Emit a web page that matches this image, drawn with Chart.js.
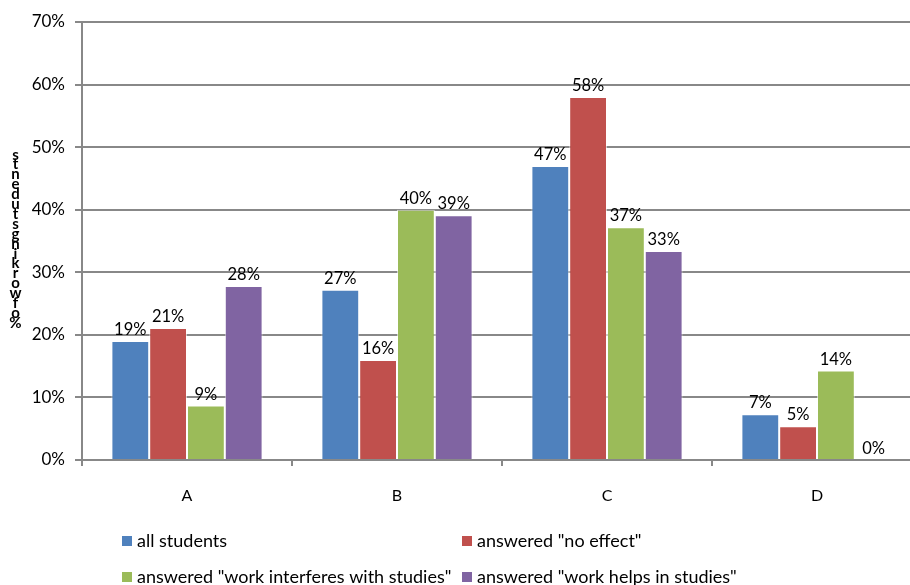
<!DOCTYPE html>
<html>
<head>
<meta charset="utf-8">
<script src="https://cdn.jsdelivr.net/npm/chart.js@4"></script>
<style>
  html, body { margin: 0; padding: 0; background: #fff; overflow: hidden; }
  #wrap { position: relative; width: 925px; height: 585px; }
</style>
</head>
<body>
<div id="wrap"><canvas id="chart" width="925" height="585"></canvas></div>
<script>
// categories and series (percent of working students)
const categories = ["A", "B", "C", "D"];
const allStudents = [19, 27.2, 47, 7.3];
const noEffect = [21.1, 16, 58, 5.4];
const interferes = [8.7, 40, 37.2, 14.3];
const helps = [27.8, 39.1, 33.4, 0];
const valueLabels = [
    ["19%", "27%", "47%", "7%"],
    ["21%", "16%", "58%", "5%"],
    ["9%", "40%", "37%", "14%"],
    ["28%", "39%", "33%", "0%"]
];
const seriesNames = [
    "all students",
    'answered "no effect"',
    'answered "work interferes with studies"',
    'answered "work helps in studies"'
];
const colors = ["#4f81bd", "#c0504d", "#9bbb59", "#8064a2"];
const yTitle = "% of working students";

const fontFamily = "Lato, 'Liberation Sans', sans-serif";

// value labels above each bar
const barLabels = {
    id: "barLabels",
    afterDatasetsDraw(chart) {
        const ctx = chart.ctx;
        ctx.save();
        ctx.font = "16.5px " + fontFamily;
        ctx.fillStyle = "#000";
        ctx.textAlign = "center";
        ctx.textBaseline = "bottom";
        chart.data.datasets.forEach((ds, i) => {
            chart.getDatasetMeta(i).data.forEach((bar, j) => {
                ctx.fillText(valueLabels[i][j], bar.x, bar.y - 3);
            });
        });
        ctx.restore();
    }
};

// stacked y-axis title and two-column legend
const extras = {
    id: "extras",
    afterDraw(chart) {
        const ctx = chart.ctx;
        ctx.save();
        // y title: characters stacked, read bottom to top
        ctx.font = "bold 15px " + fontFamily;
        ctx.fillStyle = "#000";
        ctx.textAlign = "center";
        ctx.textBaseline = "middle";
        const chars = yTitle.replace(/ /g, "").split("");
        let y = 323;
        chars.forEach(c => {
            ctx.fillText(c, 15.5, y);
            y -= 9.9;
        });
        // legend
        ctx.font = "18px " + fontFamily;
        ctx.textAlign = "left";
        ctx.textBaseline = "alphabetic";
        const pos = [[122, 536], [462, 536], [122, 572], [462, 572]];
        seriesNames.forEach((name, i) => {
            const [x, yy] = pos[i];
            ctx.fillStyle = colors[i];
            ctx.fillRect(x, yy, 10, 10);
            ctx.fillStyle = "#000";
            ctx.fillText(name, x + 15, yy + 11);
        });
        ctx.restore();
    }
};

new Chart(document.getElementById("chart"), {
    type: "bar",
    data: {
        labels: categories,
        datasets: [allStudents, noEffect, interferes, helps].map((d, i) => ({
            label: seriesNames[i],
            data: d,
            backgroundColor: colors[i],
            borderColor: "rgba(255,255,255,0.6)",
            borderWidth: 1,
            categoryPercentage: 0.72,
            barPercentage: 1.0
        }))
    },
    options: {
        responsive: false,
        animation: false,
        layout: { padding: { top: 22, left: 0, right: 3, bottom: 0 } },
        plugins: {
            legend: { display: false },
            tooltip: { enabled: false }
        },
        scales: {
            x: {
                grid: {
                    drawOnChartArea: false,
                    drawTicks: true,
                    tickLength: 6,
                    color: "#888",
                    lineWidth: 2
                },
                border: { color: "#888", width: 2 },
                ticks: {
                    color: "#000",
                    padding: 20,
                    font: { family: fontFamily, size: 16 }
                },
                afterFit(scale) { scale.height = 125; }
            },
            y: {
                min: 0,
                max: 70,
                ticks: {
                    stepSize: 10,
                    color: "#000",
                    padding: 10,
                    font: { family: fontFamily, size: 17 },
                    callback: v => v + "%"
                },
                grid: {
                    color: "#888",
                    lineWidth: 2,
                    tickLength: 7
                },
                border: { color: "#888", width: 2 },
                afterFit(scale) { scale.width = 82; }
            }
        }
    },
    plugins: [barLabels, extras]
});
</script>
</body>
</html>
